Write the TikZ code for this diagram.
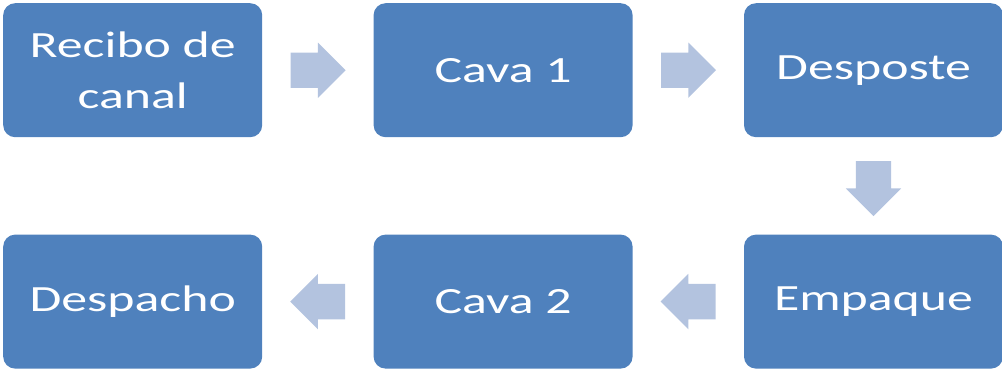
\documentclass[tikz,border=0pt]{standalone}
\usepackage{fontspec}
\setmainfont{Carlito}[FakeStretch=1.4]
\usepackage{xcolor}
\usetikzlibrary{shapes.arrows,positioning,calc}
\definecolor{stepblue}{HTML}{4F81BD}
\definecolor{arrowblue}{HTML}{B3C3DF}

\begin{document}
\begin{tikzpicture}[
    node distance=97pt and 111pt,
    stagebox/.style={rectangle, fill=stepblue, text=white, rounded corners=12pt,
        minimum width=259pt, minimum height=134pt, align=center,
        font=\fontsize{37}{51}\selectfont},
    flowarrow/.style={single arrow, fill=arrowblue, draw=none, anchor=tail,
        inner xsep=0pt, inner ysep=17.5pt,
        minimum height=55pt, single arrow head extend=10pt}
]

\useasboundingbox (0,0) rectangle (1002pt,-370pt);

\node[stagebox, anchor=north west] (recibo) at (3pt,-3pt) {Recibo de\\canal};
\node[stagebox, right=of recibo] (cava1) {Cava 1};
\node[stagebox, right=of cava1] (desposte) {Desposte};
\node[stagebox, below=of desposte] (empaque) {Empaque};
\node[stagebox, left=of empaque] (cava2) {Cava 2};
\node[stagebox, left=of cava2] (despacho) {Despacho};

% block arrows between the stages (tail placed half a length before the middle)
\node[flowarrow] (a1) at ($(recibo.east)!0.5!(cava1.west)!27.5pt!(recibo.east)$) {};
\node[flowarrow] (a2) at ($(cava1.east)!0.5!(desposte.west)!27.5pt!(cava1.east)$) {};
\node[flowarrow, rotate=-90] (a3) at ($(desposte.south)!0.5!(empaque.north)!25pt!(desposte.south)$) {};
\node[flowarrow, rotate=180] (a4) at ($(empaque.west)!0.5!(cava2.east)!27.5pt!(empaque.west)$) {};
\node[flowarrow, rotate=180] (a5) at ($(cava2.west)!0.5!(despacho.east)!27.5pt!(cava2.west)$) {};

\end{tikzpicture}
\end{document}
